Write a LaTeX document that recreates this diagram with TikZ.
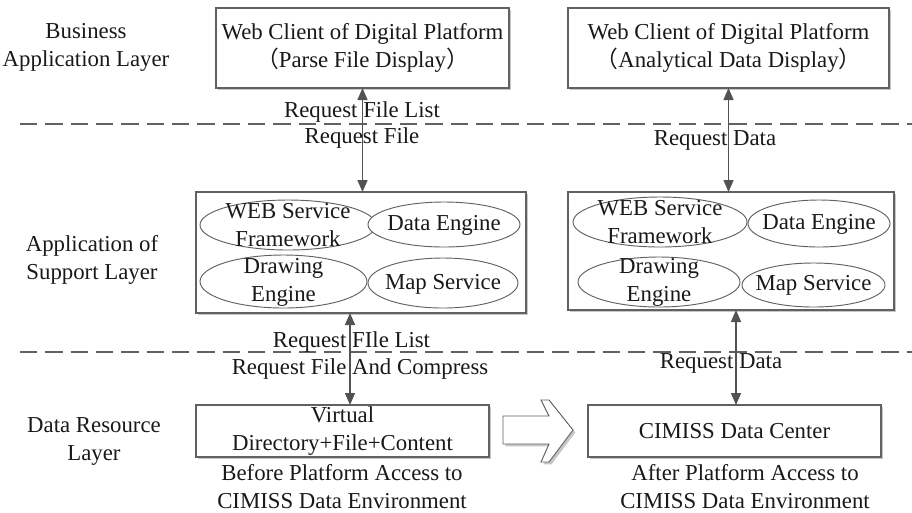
\documentclass[tikz,border=0pt]{standalone}
\usepackage{fontspec}
\setmainfont{Liberation Serif}
\newfontfamily\cjk{Noto Sans CJK SC}
\usetikzlibrary{arrows.meta,shadows,shapes.geometric}
\newcommand\lp{{\cjk （}}
\newcommand\rp{{\cjk ）}}
\begin{document}
\begin{tikzpicture}[x=0.75pt,y=-0.75pt,
  every node/.style={font=\fontsize{17.1}{21}\selectfont, text=black!90, inner sep=0pt, outer sep=0pt},
  box/.style={draw=black!62, line width=0.8pt, fill=white,
    drop shadow={shadow xshift=1.8pt, shadow yshift=-1.8pt, fill=black!22, opacity=1}},
  ell/.style={draw=black!62, line width=0.7pt, ellipse, fill=white},
  link/.style={draw=black!68, line width=1.1pt,
    {Triangle[width=7.5pt,length=9pt]}-{Triangle[width=7.5pt,length=9pt]}},
  sep/.style={draw=black!62, line width=1.1pt, dash pattern=on 13pt off 6pt},
  lbl/.style={align=center}
]
\useasboundingbox (0,0) rectangle (912,512);

% separators
\draw[sep] (20,124) -- (912,124);
\draw[sep] (20,352) -- (912,352);

% layer labels
\node[lbl] (l1) at (86,47.5) {Business\\Application Layer};
\node[lbl] (l2) at (92,259.5) {Application of\\Support Layer};
\node[lbl] (l3) at (94,441.5) {Data Resource\\Layer};

% top boxes
\node[box, minimum width=219.75pt, minimum height=60pt] (b1) at (362.5,48) {};
\node[lbl] (b1t) at (b1) {Web Client of Digital Platform\\\lp Parse File Display\rp};
\node[box, minimum width=240.75pt, minimum height=60pt] (b2) at (728.5,48) {};
\node[lbl] (b2t) at (b2) {Web Client of Digital Platform\\\lp Analytical Data Display\rp};

% middle boxes
\node[box, minimum width=247.5pt, minimum height=90.75pt] (mL) at (361,252.5) {};
\node[box, minimum width=244.5pt, minimum height=88.5pt] (mR) at (731,251) {};

% ellipses left
\node[ell, minimum width=132pt, minimum height=37.5pt] (e1) at (288,225) {};
\node[ell, minimum width=114pt, minimum height=33.75pt] (e2) at (444,224.5) {};
\node[ell, minimum width=125.25pt, minimum height=39.75pt] (e3) at (283.5,281.5) {};
\node[ell, minimum width=112.5pt, minimum height=37.5pt] (e4) at (443,283) {};
\node[lbl] (e1t) at (288,225) {WEB Service\\Framework};
\node[lbl] (e2t) at (444,225) {Data Engine};
\node[lbl] (e3t) at (283.5,282.5) {Drawing\\Engine};
\node[lbl] (e4t) at (443,284) {Map Service};

% ellipses right
\node[ell, minimum width=130.5pt, minimum height=37.5pt] (f1) at (660,222) {};
\node[ell, minimum width=106.5pt, minimum height=35.25pt] (f2) at (819,223.5) {};
\node[ell, minimum width=121.5pt, minimum height=37.5pt] (f3) at (659,282) {};
\node[ell, minimum width=107.25pt, minimum height=33pt] (f4) at (813.5,285) {};
\node[lbl] (f1t) at (660,222) {WEB Service\\Framework};
\node[lbl] (f2t) at (819,224) {Data Engine};
\node[lbl] (f3t) at (659,282.5) {Drawing\\Engine};
\node[lbl] (f4t) at (813.5,285) {Map Service};

% bottom boxes
\node[box, minimum width=219.75pt, minimum height=39pt] (vb) at (342.5,431) {};
\node[lbl] (vbt) at (vb) {Virtual\\Directory+File+Content};
\node[box, minimum width=219.75pt, minimum height=39pt] (cb) at (734.5,431) {};
\node[lbl] (cbt) at (cb) {CIMISS Data Center};

% captions
\node[lbl] (c1) at (342,486.5) {Before Platform Access to\\CIMISS Data Environment};
\node[lbl] (c2) at (745,486.5) {After Platform Access to\\CIMISS Data Environment};

% block arrow
\draw[draw=black!62, line width=0.7pt, fill=white,
  drop shadow={shadow xshift=1.8pt, shadow yshift=-1.8pt, fill=black!22, opacity=1}]
  (503,416) -- (549,416) -- (541,400) -- (549,400) -- (573,430) -- (549,462)
  -- (541,462) -- (549,444) -- (503,444) -- cycle;

% connectors
\coordinate (a3) at (350,0);
\coordinate (a4) at (736,0);
\draw[link] (b1.south) -- (b1.south |- mL.north);
\draw[link] (b2.south) -- (b2.south |- mR.north);
\draw[link] (mL.south -| a3) -- (vb.north -| a3);
\draw[link] (mR.south -| a4) -- (cb.north -| a4);

% connector labels
\node[lbl] (r1) at (362,112) {Request File List};
\node[lbl] (r2) at (362,138) {Request File};
\node[lbl] (r3) at (715,140) {Request Data};
\node[lbl] (r4) at (351.5,342) {Request FIle List};
\node[lbl] (r5) at (360,369) {Request File And Compress};
\node[lbl] (r6) at (721,363) {Request Data};
\end{tikzpicture}
\end{document}
